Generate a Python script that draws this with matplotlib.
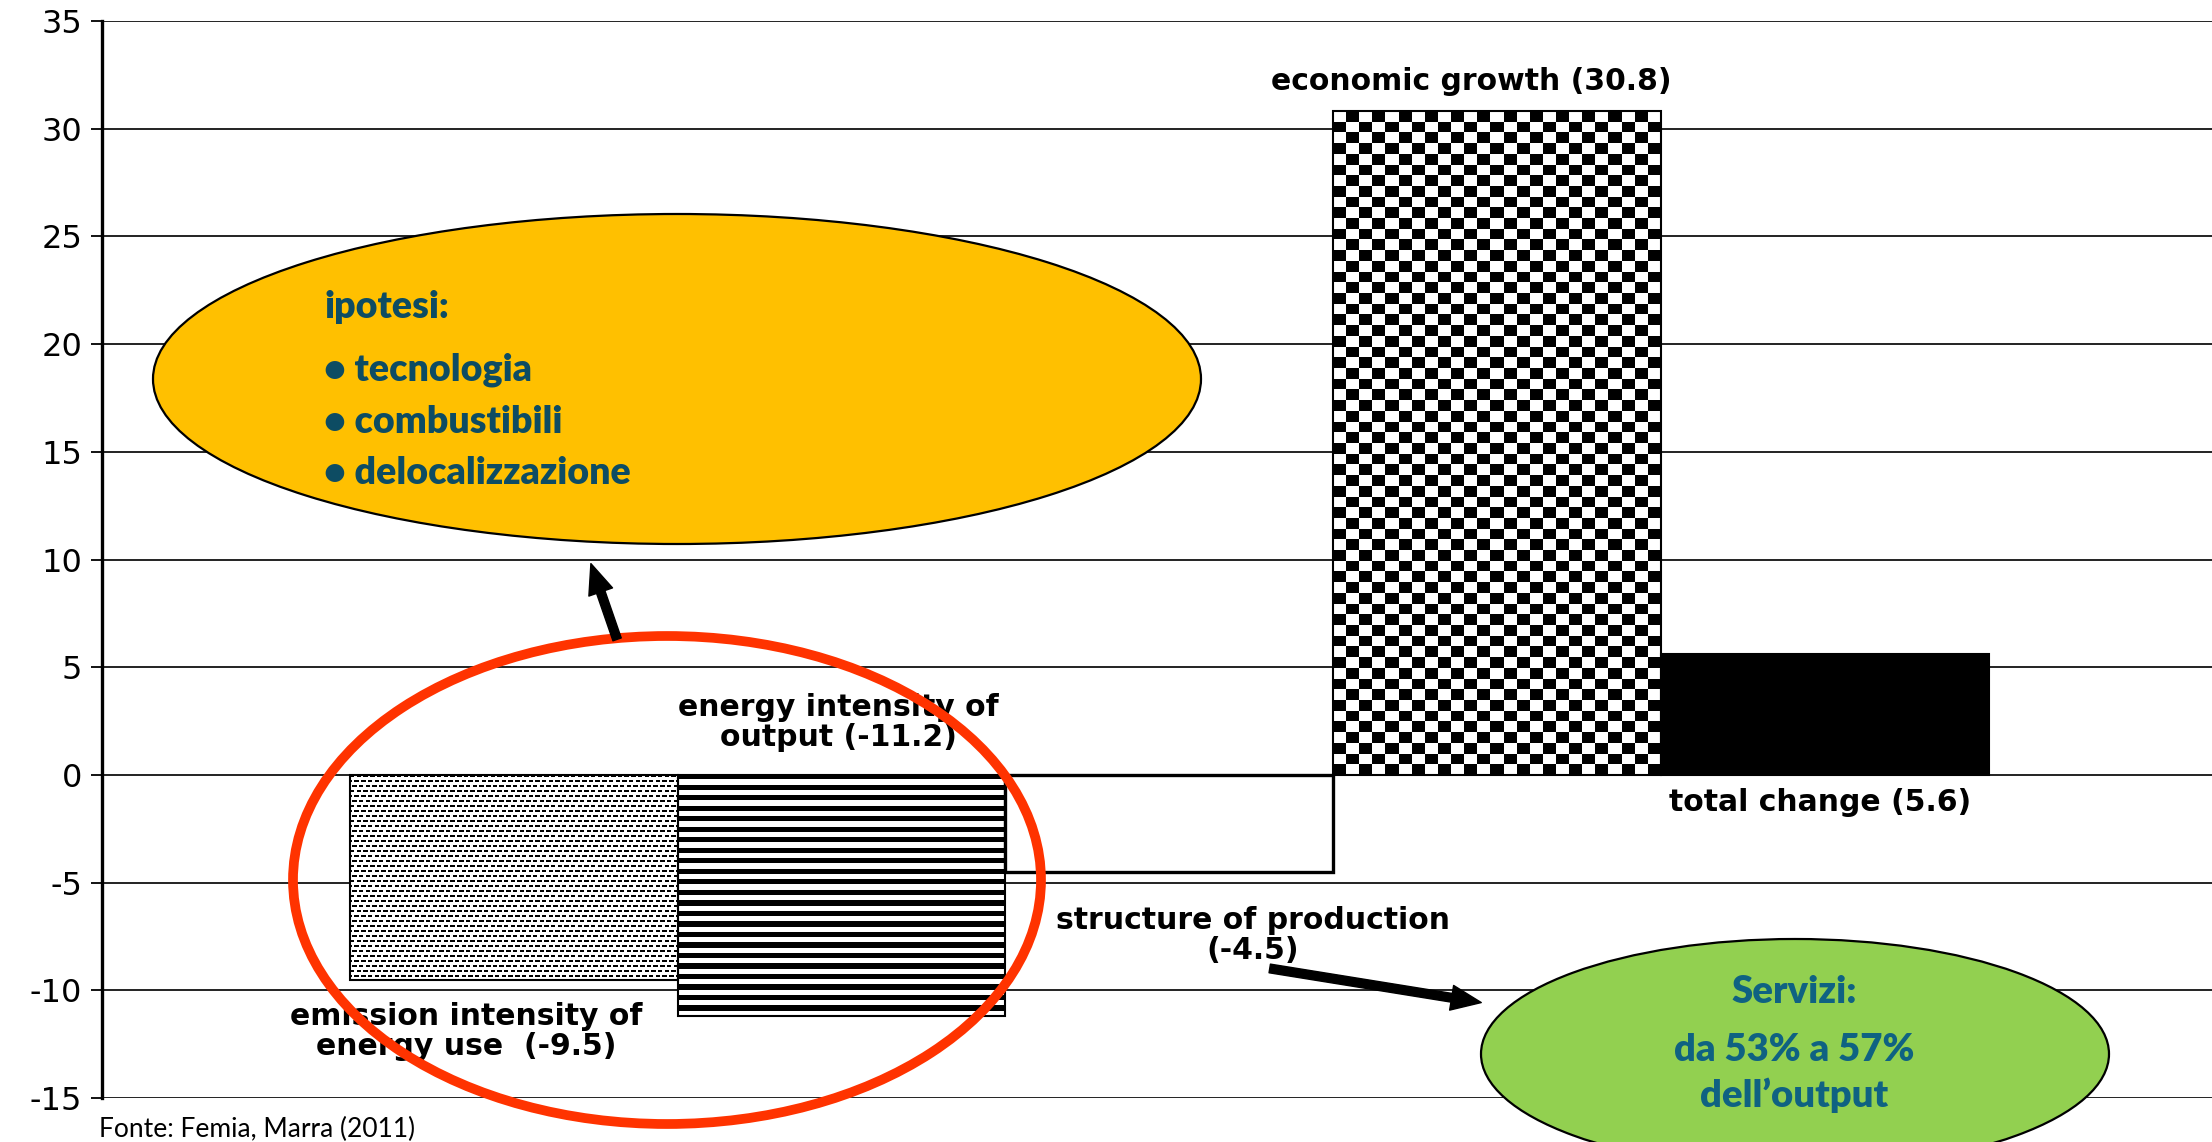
import numpy as np
import matplotlib.pyplot as plt
from matplotlib.patches import Ellipse

plt.rcParams['axes.unicode_minus'] = False

# Waterfall components of emission change
categories = ["emission intensity of energy use", "energy intensity of output",
              "structure of production", "economic growth", "total change"]
values = [-9.5, -11.2, -4.5, 30.8, 5.6]
labels = ["emission intensity of\nenergy use  (-9.5)",
          "energy intensity of\noutput (-11.2)",
          "structure of production\n(-4.5)",
          "economic growth (30.8)",
          "total change (5.6)"]
yticks = [-15, -10, -5, 0, 5, 10, 15, 20, 25, 30, 35]

W, H = 2212, 1142
fig = plt.figure(figsize=(W / 100, H / 100), dpi=100)
ax = fig.add_axes([101.6 / W, 44 / H, 1 - 101.6 / W, 1077 / H])

x = np.arange(len(values))
bars = ax.bar(x, values, width=1.0, color="white", edgecolor="none", zorder=2)


def fill_pattern(bar, arr):
    x0, y0 = bar.get_x(), bar.get_y()
    x1, y1 = x0 + bar.get_width(), y0 + bar.get_height()
    ax.imshow(arr, extent=(x0, x1, min(y0, y1), max(y0, y1)), cmap="gray_r",
              vmin=0, vmax=1, interpolation="nearest", aspect="auto", zorder=3)


# dotted fill
r, c = np.mgrid[0:82, 0:147]
fill_pattern(bars[0], ((r % 2 == 0) & ((c + r // 2) % 3 != 2)).astype(float))
# horizontal stripes
fill_pattern(bars[1], (np.arange(46) % 2 == 0).astype(float)[:, None] * np.ones((1, 4)))
# checkerboard
r, c = np.mgrid[0:62, 0:25]
fill_pattern(bars[3], ((r + c) % 2).astype(float))
# solid black total
bars[4].set_facecolor("black")

ax.bar(x, values, width=1.0, fill=False, edgecolor="black",
       linewidth=[1.5, 1.5, 2.4, 1.5, 1.5], zorder=4)

ax.set_xlim(-1.257, 5.18)
ax.set_ylim(-15, 35)
ax.set_yticks(yticks)
ax.set_yticklabels([str(t) for t in yticks], fontsize=23, family="DejaVu Sans")
ax.tick_params(axis="y", direction="out", length=8, width=1.3, pad=6)
ax.set_xticks([])
ax.yaxis.grid(True, color="#222222", linewidth=1.4, zorder=0)
ax.set_axisbelow(True)
for s in ["top", "right", "bottom"]:
    ax.spines[s].set_visible(False)
ax.spines["left"].set_linewidth(2.4)

# category labels
lab_pos = [(-0.145, -11.9), (0.99, 2.45), (2.255, -7.45), (2.92, 32.2), (3.985, -1.3)]
for (lx, ly), t in zip(lab_pos, labels):
    ax.text(lx, ly, t, ha="center", va="center", fontsize=21.5, fontweight="bold",
            family="DejaVu Sans", linespacing=1.05, zorder=6)


def fx(px, py):
    return (px / W, 1 - py / H)


# callout ellipses
ax.add_patch(Ellipse(fx(677, 379), 1048 / W, 330 / H, transform=fig.transFigure,
                     facecolor="#FFC000", edgecolor="black", linewidth=1.6,
                     clip_on=False, zorder=7))
ax.add_patch(Ellipse(fx(1795, 1054), 628 / W, 230 / H, transform=fig.transFigure,
                     facecolor="#92D050", edgecolor="black", linewidth=1.6,
                     clip_on=False, zorder=7))
ax.add_patch(Ellipse(fx(667, 880), 748 / W, 488 / H, transform=fig.transFigure,
                     facecolor="none", edgecolor="#FF3300", linewidth=7,
                     clip_on=False, zorder=8))

orange_lines = ["ipotesi:", "• tecnologia", "• combustibili", "• delocalizzazione"]
for t, py in zip(orange_lines, [307, 370, 422, 473]):
    fig.text(*fx(324, py), t, ha="left", va="center", fontsize=27,
             fontweight="heavy", family="Lato", color="#0D4C63", zorder=9)

green_lines = ["Servizi:", "da 53% a 57%", "dell’output"]
for t, py in zip(green_lines, [992, 1050, 1095]):
    fig.text(*fx(1794, py), t, ha="center", va="center", fontsize=27.5,
             fontweight="heavy", family="Lato", color="#0F6282", zorder=9)

# arrows
arrow = dict(arrowstyle="simple,head_length=1.2,head_width=1.0,tail_width=0.35",
             color="black", mutation_scale=18)
ax.annotate("", xy=fx(590, 561), xytext=fx(618, 642), xycoords="figure fraction",
            textcoords="figure fraction", arrowprops=arrow, zorder=10)
ax.annotate("", xy=fx(1484, 1003), xytext=fx(1267, 968), xycoords="figure fraction",
            textcoords="figure fraction", arrowprops=arrow, zorder=10)

fig.text(*fx(99, 1129), "Fonte: Femia, Marra (2011)", ha="left", va="center",
         fontsize=19, family="Lato")

fig.savefig("out.png", dpi=100)
